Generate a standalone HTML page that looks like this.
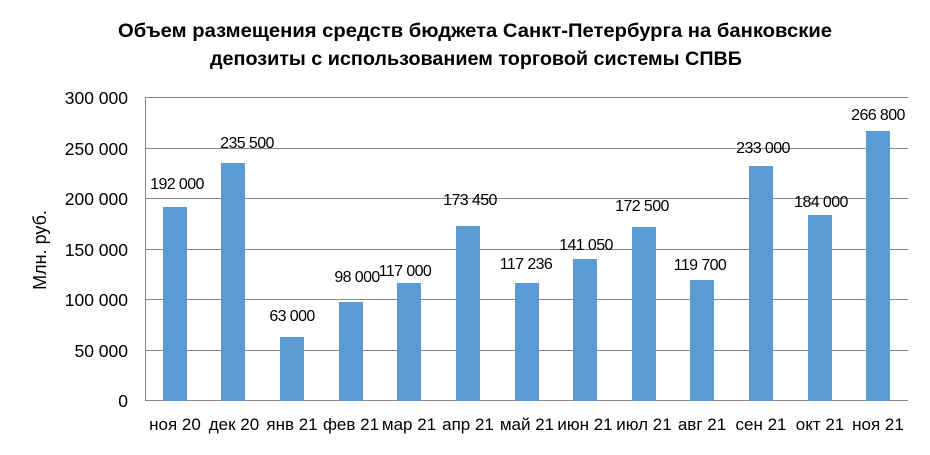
<!DOCTYPE html>
<html><head><meta charset="utf-8"><style>
body{margin:0;background:#fff}
svg text{font-family:"Liberation Sans","DejaVu Sans",sans-serif;fill:#000}
</style></head><body>
<svg width="930" height="450" viewBox="0 0 930 450" xmlns="http://www.w3.org/2000/svg">
<rect width="930" height="450" fill="#fff"/>
<text x="475" y="37" font-size="19" font-weight="bold" text-anchor="middle" textLength="714" lengthAdjust="spacingAndGlyphs">Объем размещения средств бюджета Санкт-Петербурга на  банковские</text>
<text x="476" y="65" font-size="19" font-weight="bold" text-anchor="middle" textLength="532" lengthAdjust="spacingAndGlyphs">депозиты с использованием торговой системы СПВБ</text>
<g stroke="#888" stroke-width="1">
<line x1="145" y1="97.5" x2="908" y2="97.5"/>
<line x1="145" y1="148.5" x2="908" y2="148.5"/>
<line x1="145" y1="198.5" x2="908" y2="198.5"/>
<line x1="145" y1="249.5" x2="908" y2="249.5"/>
<line x1="145" y1="299.5" x2="908" y2="299.5"/>
<line x1="145" y1="350.5" x2="908" y2="350.5"/>
<line x1="145" y1="400.5" x2="908" y2="400.5"/>
<line x1="145.5" y1="97" x2="145.5" y2="401"/>
</g>
<g font-size="17.5" text-anchor="end">
<text x="128" y="104">300 000</text>
<text x="128" y="155">250 000</text>
<text x="128" y="205">200 000</text>
<text x="128" y="256">150 000</text>
<text x="128" y="306">100 000</text>
<text x="128" y="357">50 000</text>
<text x="128" y="407">0</text>
</g>
<text transform="translate(46,250) rotate(-90)" font-size="18" text-anchor="middle">Млн. руб.</text>
<g fill="#5b9bd5">
<rect x="163" y="207" width="24" height="194"/>
<rect x="221" y="163" width="24" height="238"/>
<rect x="280" y="337" width="24" height="64"/>
<rect x="339" y="302" width="24" height="99"/>
<rect x="397" y="283" width="24" height="118"/>
<rect x="456" y="226" width="24" height="175"/>
<rect x="515" y="283" width="24" height="118"/>
<rect x="573" y="259" width="24" height="142"/>
<rect x="632" y="227" width="24" height="174"/>
<rect x="690" y="280" width="24" height="121"/>
<rect x="749" y="166" width="24" height="235"/>
<rect x="808" y="215" width="24" height="186"/>
<rect x="866" y="131" width="24" height="270"/>
</g>
<g font-size="16" text-anchor="middle" letter-spacing="-0.6">
<text x="177" y="189">192 000</text>
<text x="247" y="148">235 500</text>
<text x="292" y="321">63 000</text>
<text x="357" y="282">98 000</text>
<text x="405" y="276">117 000</text>
<text x="470" y="205">173 450</text>
<text x="526" y="269">117 236</text>
<text x="586" y="250">141 050</text>
<text x="642" y="211">172 500</text>
<text x="700" y="270">119 700</text>
<text x="763" y="153">233 000</text>
<text x="821" y="207">184 000</text>
<text x="878" y="120">266 800</text>
</g>
<g font-size="17" text-anchor="middle">
<text x="175" y="430">ноя 20</text>
<text x="234" y="430">дек 20</text>
<text x="292" y="430">янв 21</text>
<text x="351" y="430">фев 21</text>
<text x="409" y="430">мар 21</text>
<text x="468" y="430">апр 21</text>
<text x="527" y="430">май 21</text>
<text x="585" y="430">июн 21</text>
<text x="644" y="430">июл 21</text>
<text x="702" y="430">авг 21</text>
<text x="761" y="430">сен 21</text>
<text x="820" y="430">окт 21</text>
<text x="878" y="430">ноя 21</text>
</g>
</svg>
</body></html>
